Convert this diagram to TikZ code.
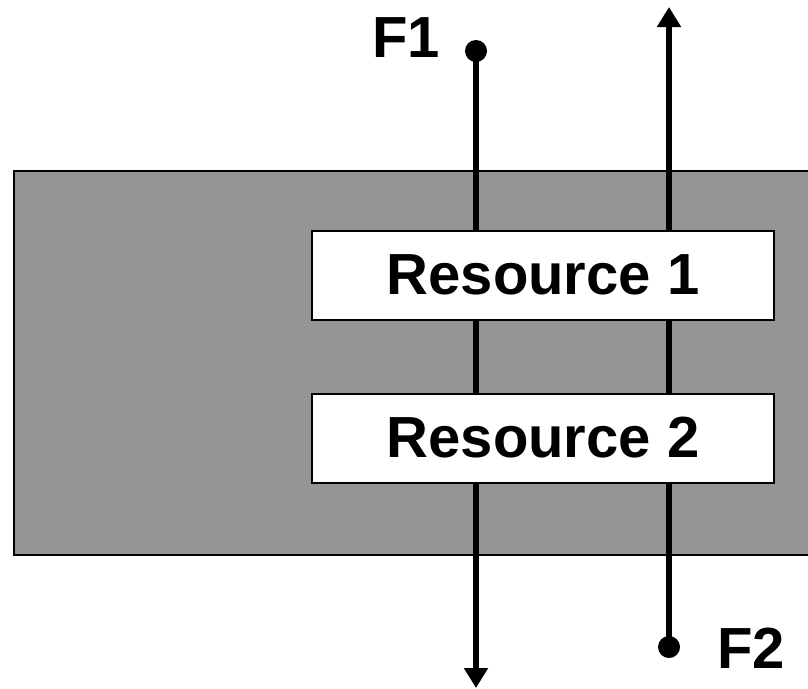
\documentclass[tikz,border=0pt]{standalone}
\usepackage{fontspec}
\setmainfont{Liberation Sans}
\usetikzlibrary{arrows.meta,positioning}
\tikzset{>={Triangle[width=23pt,length=20pt]}}
\definecolor{poolgray}{HTML}{959595}
\newcommand{\bigbold}{\fontsize{58}{60}\selectfont\bfseries}

\begin{document}
\begin{tikzpicture}[x=1pt,y=-1pt,
    resource/.style={draw,line width=2pt,fill=white,inner sep=0pt,
      minimum width=462pt,minimum height=89pt,font=\bigbold},
    flow/.style={line width=6.5pt},
    dot/.style={circle,fill,inner sep=0pt,minimum size=22pt},
    flowname/.style={inner sep=0pt,font=\bigbold}]
  \useasboundingbox (0,0) rectangle (808,688);
  % shared pool
  \draw[fill=poolgray,line width=2.5pt] (14,171) rectangle (824,555);
  % flow ends
  \coordinate (f1src) at (476,51);
  \coordinate (f1snk) at (476,688);
  \coordinate (f2src) at (669,647);
  \coordinate (f2snk) at (669,7);
  % flows
  \draw[flow,->] (f1src) -- (f1snk);
  \draw[flow,->] (f2src) -- (f2snk);
  % resources
  \node[resource] (res1) at (543,275) {Resource 1};
  \node[resource] (res2) at (543,438) {Resource 2};
  % sources
  \node[dot] (f1dot) at (f1src) {};
  \node[dot] (f2dot) at (f2src) {};
  \node[flowname] (f1) at (406,38) {F1};
  \node[flowname] (f2) at (751,648) {F2};
\end{tikzpicture}
\end{document}
